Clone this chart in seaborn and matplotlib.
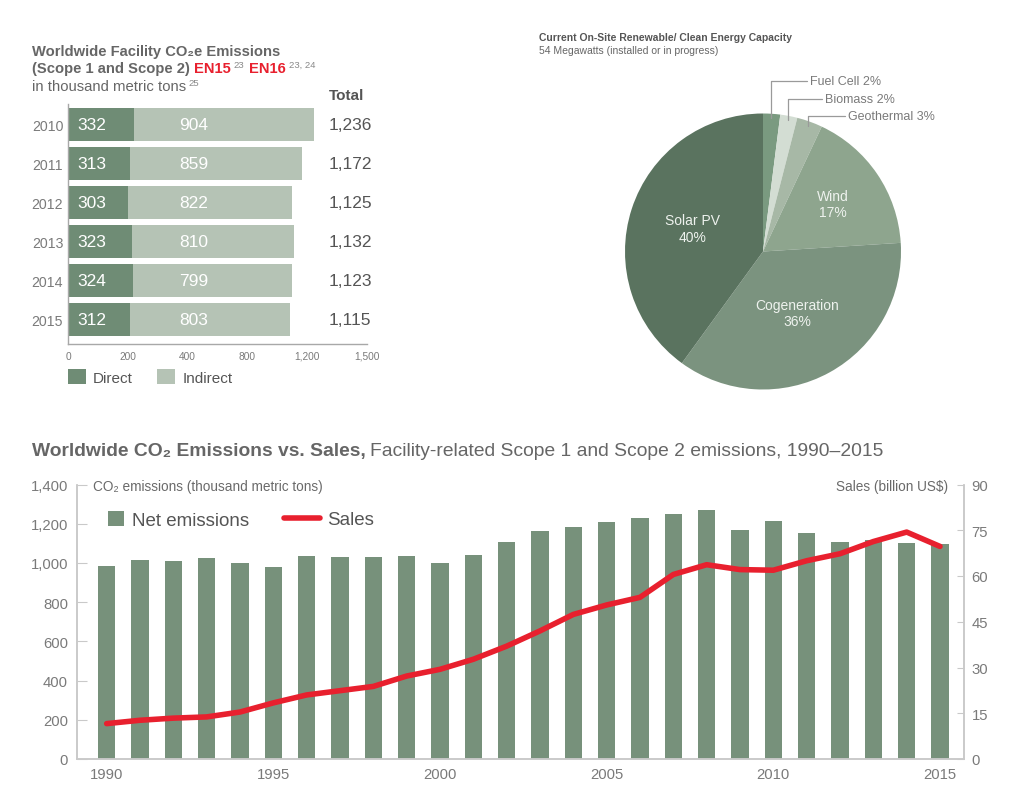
import matplotlib
matplotlib.use('Agg')
import matplotlib.pyplot as plt
import seaborn as sns
import numpy as np
import pandas as pd

# ---------------- data ----------------
fac_years = ['2010', '2011', '2012', '2013', '2014', '2015']
fac_direct = [332, 313, 303, 323, 324, 312]
fac_indirect = [904, 859, 822, 810, 799, 803]
fac_total = [1236, 1172, 1125, 1132, 1123, 1115]
fac_xticks = [0, 300, 600, 900, 1200, 1500]
fac_xticklabels = ['0', '200', '400', '800', '1,200', '1,500']

pie_labels = ['Fuel Cell', 'Biomass', 'Geothermal', 'Wind', 'Cogeneration', 'Solar PV']
pie_shares = [2, 2, 3, 17, 36, 40]

hist_years = list(range(1990, 2016))
hist_emissions = [986, 1015, 1010, 1027, 1000, 981, 1036, 1032, 1032, 1036,
                  998, 1042, 1105, 1162, 1182, 1207, 1228, 1250, 1270, 1167,
                  1213, 1153, 1105, 1117, 1100, 1097]
hist_sales = [11.6, 12.7, 13.4, 13.8, 15.4, 18.4, 21.0, 22.4, 23.8, 27.2,
              29.4, 32.7, 37.0, 42.0, 47.4, 50.5, 53.0, 60.5, 63.7, 62.1,
              61.9, 65.0, 67.3, 71.3, 74.4, 69.7]
em_ticks = [0, 200, 400, 600, 800, 1000, 1200, 1400]
sales_ticks = [0, 15, 30, 45, 60, 75, 90]
year_ticks = [1990, 1995, 2000, 2005, 2010, 2015]

# ---------------- style ----------------
sns.set_style('white')
plt.rcParams['font.family'] = ['Liberation Sans', 'DejaVu Sans']

GRAY_T = '#6a6a6a'
GRAY_L = '#7a7a7a'
SPINE = '#c9c9c9'
DIRECT_C = '#6f8c75'
INDIRECT_C = '#b5c3b5'
BAR_C = '#77917b'
RED = '#e8202e'
PIE_COLORS = ['#7a9a80', '#d3ddd3', '#a7b8a6', '#8ea58e', '#7b937f', '#5a735f']

W, H = 1024, 803
fig = plt.figure(figsize=(W / 100, H / 100), dpi=100)
fig.patch.set_facecolor('white')
renderer = fig.canvas.get_renderer()


def fx(px):
    return px / W


def fy(py):
    return 1 - py / H


def run(x_px, y_px, parts):
    x = x_px
    for s, kw in parts:
        kw = dict(kw)
        dy = kw.pop('dy', 0)
        gap = kw.pop('gap', 0)
        x += gap
        t = fig.text(fx(x), fy(y_px - dy), s, va='baseline', ha='left', **kw)
        x += t.get_window_extent(renderer).width
    return x


# ---------------- top-left: facility emissions ----------------
dff = pd.DataFrame({'year': fac_years, 'direct': fac_direct, 'indirect': fac_indirect,
                    'total': fac_total})
dff['stack'] = dff['direct'] + dff['indirect']

axf = fig.add_axes([fx(68), fy(345), 299 / W, 240 / H])
sns.barplot(data=dff, y='year', x='stack', orient='h', color=INDIRECT_C, saturation=1,
            width=0.85, linewidth=0, ax=axf, label='Indirect')
sns.barplot(data=dff, y='year', x='direct', orient='h', color=DIRECT_C, saturation=1,
            width=0.85, linewidth=0, ax=axf, label='Direct')
axf.set_xlim(0, 1500)
axf.set_ylim(5.63, -0.526)
axf.set_xlabel('')
axf.set_ylabel('')
axf.set_xticks(fac_xticks, labels=fac_xticklabels)
axf.tick_params(axis='x', direction='in', length=4, color='#9a9a9a', labelsize=7.3,
                labelcolor=GRAY_L, pad=5)
axf.tick_params(axis='y', length=0, labelsize=10.2, labelcolor=GRAY_L, pad=3.5)
for s in ['top', 'right']:
    axf.spines[s].set_visible(False)
for s in ['left', 'bottom']:
    axf.spines[s].set_color('#a8a8a8')
    axf.spines[s].set_linewidth(1)

for i in range(len(fac_years)):
    axf.text(45, i, f'{fac_direct[i]:,}', color='white', fontsize=12.5, va='center', ha='left')
    axf.text(557, i, f'{fac_indirect[i]:,}', color='white', fontsize=12.5, va='center', ha='left')
    axf.text(1305, i, f'{fac_total[i]:,}', color='#555555', fontsize=12.5, va='center',
             ha='left', clip_on=False)
axf.text(1310, -0.75, 'Total', color='#555555', fontsize=11, fontweight='bold',
         va='center', ha='left', clip_on=False)

hnd, lab = axf.get_legend_handles_labels()
order = [lab.index('Direct'), lab.index('Indirect')]
axf.legend([hnd[k] for k in order], [lab[k] for k in order], loc='upper left',
           bbox_to_anchor=(fx(68), fy(370)), bbox_transform=fig.transFigure, ncol=2,
           frameon=False, fontsize=11, handlelength=1.18, handleheight=1.18,
           handletextpad=0.45, columnspacing=1.6, borderpad=0, borderaxespad=0,
           labelcolor='#555555')

TB = dict(fontsize=10.6, fontweight='bold', color='#666666')
run(32, 56, [('Worldwide Facility CO₂e Emissions', TB)])
run(32, 73, [('(Scope 1 and Scope 2)', TB),
             ('EN15', dict(TB, color='#e8202e', gap=4)),
             ('23', dict(fontsize=6.8, color='#888888', dy=5, gap=3)),
             ('EN16', dict(TB, color='#e8202e', gap=5)),
             ('23, 24', dict(fontsize=6.8, color='#888888', dy=5, gap=3))])
run(32, 91, [('in thousand metric tons', dict(fontsize=10.7, color='#666666')),
             ('25', dict(fontsize=6.8, color='#888888', dy=5, gap=2))])

# ---------------- top-right: pie ----------------
axp = fig.add_axes([fx(625), fy(390.5), 276 / W, 276 / H])
wedges, _ = axp.pie(pie_shares, colors=PIE_COLORS, startangle=90, counterclock=False,
                    wedgeprops=dict(linewidth=0))
axp.set_xlim(-1, 1)
axp.set_ylim(-1, 1)
axp.set_aspect('equal')
for w in wedges:
    w.set_clip_on(False)

small_label_y = [1.238, 1.105, 0.98]
small_text_x = [0.34, 0.45, 0.615]
for i in range(3):
    w = wedges[i]
    mid = np.deg2rad((w.theta1 + w.theta2) / 2)
    x0, y0 = 0.97 * np.cos(mid), 0.97 * np.sin(mid)
    axp.plot([x0, x0, small_text_x[i] - 0.02], [y0, small_label_y[i], small_label_y[i]],
             color='#9a9a9a', lw=0.9, clip_on=False)
    axp.text(small_text_x[i], small_label_y[i], f'{pie_labels[i]} {pie_shares[i]}%',
             fontsize=9, color=GRAY_L, va='center', ha='left', clip_on=False)

big_r = [0.61, 0.51, 0.54]
for j, i in enumerate([3, 4, 5]):
    w = wedges[i]
    mid = np.deg2rad((w.theta1 + w.theta2) / 2)
    axp.text(big_r[j] * np.cos(mid), big_r[j] * np.sin(mid),
             f'{pie_labels[i]}\n{pie_shares[i]}%', fontsize=10, color='#eef2ee',
             ha='center', va='center', linespacing=1.2)

fig.text(fx(539), fy(41), 'Current On-Site Renewable/ Clean Energy Capacity',
         fontsize=7.5, fontweight='bold', color='#555555', va='baseline')
fig.text(fx(539), fy(53.5), '54 Megawatts (installed or in progress)',
         fontsize=7.5, color='#666666', va='baseline')

# ---------------- bottom: emissions vs sales ----------------
dfh = pd.DataFrame({'year': hist_years, 'emissions': hist_emissions, 'sales': hist_sales})
axb = fig.add_axes([fx(77), fy(760), (964 - 77) / W, (760 - 485.5) / H])
sns.barplot(data=dfh, x='year', y='emissions', native_scale=True, color=BAR_C,
            saturation=1, width=0.52, linewidth=0, ax=axb, label='Net emissions')
axb.set_xlim(1989.11, 2015.72)
axb.set_ylim(0, 1400)
axb.set_xlabel('')
axb.set_ylabel('')
axb.set_xticks(year_ticks)
axb.set_yticks(em_ticks, labels=[f'{v:,}' for v in em_ticks])
axb.tick_params(axis='y', direction='in', length=7, color=SPINE, labelsize=10.7,
                labelcolor=GRAY_L, pad=6.5)
axb.tick_params(axis='x', length=0, labelsize=10.7, labelcolor=GRAY_L, pad=6)

ax2 = axb.twinx()
sns.lineplot(data=dfh, x='year', y='sales', color=RED, linewidth=4, ax=ax2, label='Sales',
             solid_capstyle='round')
ax2.set_ylim(0, 90)
ax2.set_xlim(1989.11, 2015.72)
ax2.set_ylabel('')
ax2.set_yticks(sales_ticks)
ax2.tick_params(axis='y', direction='in', length=5, color=SPINE, labelsize=10.7,
                labelcolor=GRAY_L, pad=5.5)
for a in (axb, ax2):
    a.spines['top'].set_visible(False)
    for s in ['left', 'right', 'bottom']:
        a.spines[s].set_color(SPINE)
        a.spines[s].set_linewidth(1.1)

hb, lb = axb.get_legend_handles_labels()
axb.legend(hb, lb, loc='upper left', bbox_to_anchor=(fx(108), fy(512)),
           bbox_transform=fig.transFigure, frameon=False, fontsize=13.5,
           handlelength=0.87, handleheight=0.87, handletextpad=0.4, borderpad=0,
           borderaxespad=0, labelcolor='#555555')
hl, ll = ax2.get_legend_handles_labels()
ax2.legend(hl, ll, loc='upper left', bbox_to_anchor=(fx(284), fy(512)),
           bbox_transform=fig.transFigure, frameon=False, fontsize=13.5,
           handlelength=1.9, handletextpad=0.4, borderpad=0, borderaxespad=0,
           labelcolor='#555555')

fig.text(fx(93), fy(491), 'CO₂ emissions (thousand metric tons)', fontsize=9.8,
         color=GRAY_T, va='baseline', ha='left')
fig.text(fx(948), fy(491), 'Sales (billion US$)', fontsize=9.8, color=GRAY_T,
         va='baseline', ha='right')

run(31.5, 456, [('Worldwide CO₂ Emissions vs. Sales,', dict(fontsize=13.9, fontweight='bold',
                                                             color='#666666')),
                ('Facility-related Scope 1 and Scope 2 emissions, 1990–2015',
                 dict(fontsize=13.9, color='#666666', gap=5))])

fig.savefig('out.png', dpi=100, facecolor='white')
